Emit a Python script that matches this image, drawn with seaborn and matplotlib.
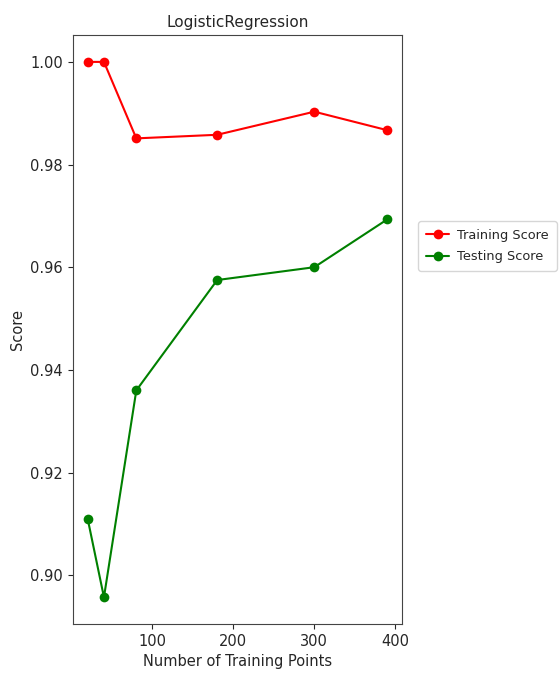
import matplotlib
matplotlib.use("Agg")
import matplotlib.pyplot as plt
import seaborn as sns
import pandas as pd

train_sizes = [20, 40, 80, 180, 300, 390]
training_score = [1.000, 1.000, 0.9851, 0.9858, 0.9903, 0.9867]
testing_score = [0.9109, 0.8957, 0.9360, 0.9575, 0.9600, 0.9693]
series_names = ["Training Score", "Testing Score"]
series_colors = ["red", "green"]
title = "LogisticRegression"
xlabel = "Number of Training Points"
ylabel = "Score"

df = pd.DataFrame({
    "x": train_sizes * 2,
    "score": training_score + testing_score,
    "series": [series_names[0]] * len(train_sizes) + [series_names[1]] * len(train_sizes),
})

sns.set_style("ticks")
plt.rcParams["font.family"] = ["DejaVu Sans"]

fig = plt.figure(figsize=(5.6, 6.73), dpi=100)
ax = fig.add_axes([0.130, 0.0728, 0.588, 0.875])

sns.lineplot(data=df, x="x", y="score", hue="series", hue_order=series_names,
             palette=series_colors, marker="o", markersize=7, markeredgewidth=0,
             linewidth=1.5, ax=ax)

ax.set_title(title, fontsize=11)
ax.set_xlabel(xlabel, fontsize=10.5)
ax.set_ylabel(ylabel, fontsize=10.5)
ax.set_xticks([100, 200, 300, 400])
ax.set_yticks([0.90, 0.92, 0.94, 0.96, 0.98, 1.00])
ax.set_yticklabels([f"{v:.2f}" for v in [0.90, 0.92, 0.94, 0.96, 0.98, 1.00]])
ax.tick_params(labelsize=10.5)
for s in ax.spines.values():
    s.set_visible(True)
    s.set_color("#444444")

ax.legend(title=None, loc="center left", bbox_to_anchor=(1.03, 0.642),
          fontsize=9.3, frameon=True, handlelength=1.8, handletextpad=0.6,
          borderpad=0.6, labelspacing=0.65)

fig.savefig("out.png", dpi=100)
